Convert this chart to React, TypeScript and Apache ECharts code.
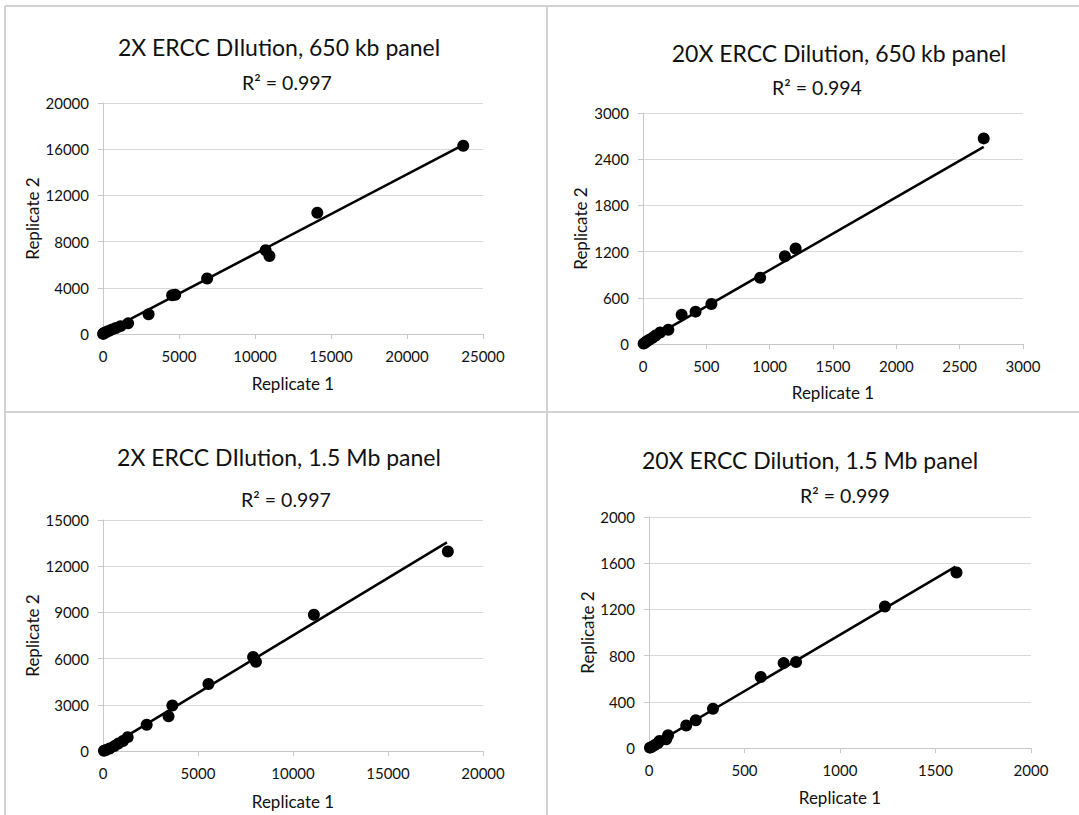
import React, { useEffect, useRef } from "react";
import * as echarts from "echarts";

// Panel titles and R² labels
const titles = [
  "2X ERCC DIlution, 650 kb panel",
  "20X ERCC Dilution, 650 kb panel",
  "2X ERCC DIlution, 1.5 Mb panel",
  "20X ERCC Dilution, 1.5 Mb panel",
];
const r2Labels = ["R² = 0.997", "R² = 0.994", "R² = 0.997", "R² = 0.999"];

// Axis ranges [min, max, interval]
const xRanges = [
  [0, 25000, 5000],
  [0, 3000, 500],
  [0, 20000, 5000],
  [0, 2000, 500],
];
const yRanges = [
  [0, 20000, 4000],
  [0, 3000, 600],
  [0, 15000, 3000],
  [0, 2000, 400],
];

// Panel 1: 2X, 650 kb
const p1Rep1 = [23700, 14100, 10700, 10950, 6850, 4550, 4750, 3000, 1650, 1150, 850, 600, 400, 220, 100, 30, 10];
const p1Rep2 = [16300, 10500, 7250, 6750, 4800, 3350, 3400, 1700, 920, 680, 520, 400, 280, 170, 100, 40, 10];
const p1Trend = [[0, 60], [23700, 16380]];

// Panel 2: 20X, 650 kb
const p2Rep1 = [2690, 1205, 1120, 925, 540, 415, 305, 200, 135, 100, 75, 50, 30, 15, 5];
const p2Rep2 = [2670, 1240, 1140, 860, 520, 420, 380, 185, 150, 110, 80, 55, 35, 15, 5];
const p2Trend = [[0, 15], [2690, 2560]];

// Panel 3: 2X, 1.5 Mb
const p3Rep1 = [18150, 11100, 7900, 8050, 5550, 3650, 3450, 2300, 1300, 1050, 800, 600, 350, 150, 50];
const p3Rep2 = [12950, 8850, 6100, 5800, 4350, 2950, 2250, 1700, 900, 650, 480, 320, 160, 60, 20];
const p3Trend = [[0, 40], [18100, 13550]];

// Panel 4: 20X, 1.5 Mb
const p4Rep1 = [1610, 1235, 770, 705, 585, 335, 245, 195, 100, 90, 55, 45, 30, 15, 5];
const p4Rep2 = [1520, 1225, 745, 735, 615, 340, 240, 195, 110, 75, 60, 40, 25, 10, 3];
const p4Trend = [[0, 5], [1605, 1570]];

const xName = "Replicate 1";
const yName = "Replicate 2";

const FONT = "Lato, 'Open Sans', sans-serif";

export default function App() {
  const ref = useRef<HTMLDivElement>(null);

  useEffect(() => {
    if (!ref.current) return;
    const chart = echarts.init(ref.current, null, { renderer: "svg" });

    const grids = [
      { left: 103, top: 103, width: 380, height: 231 },
      { left: 643, top: 113, width: 380, height: 231 },
      { left: 103, top: 520, width: 380, height: 231 },
      { left: 649, top: 517, width: 382, height: 231 },
    ];
    const yNameGaps = [62, 54, 62, 53];
    const xNameGaps = [41, 40, 42, 41];
    const titlePos = [
      [279, 47],
      [839, 53],
      [279, 457],
      [810, 460],
    ];
    const r2Pos = [
      [287, 82],
      [817, 87],
      [286, 499],
      [845, 495],
    ];

    const scatterSets = [
      [p1Rep1, p1Rep2],
      [p2Rep1, p2Rep2],
      [p3Rep1, p3Rep2],
      [p4Rep1, p4Rep2],
    ];
    const trends = [p1Trend, p2Trend, p3Trend, p4Trend];

    const axisCommon = {
      axisLine: { show: true, lineStyle: { color: "#c8c8c8", width: 1 } },
      axisTick: { show: true, length: 5, lineStyle: { color: "#c8c8c8" } },
      splitLine: { show: true, lineStyle: { color: "#d9d9d9", width: 1 } },
      nameLocation: "middle",
      nameTextStyle: { fontFamily: FONT, fontSize: 17, color: "#111" },
    };
    const labelStyle = {
      fontFamily: FONT,
      fontSize: 15,
      color: "#111",
      margin: 14,
      formatter: (v: number) => String(v),
    };

    const xAxis = xRanges.map((r, i) => ({
      ...axisCommon,
      type: "value",
      gridIndex: i,
      min: r[0],
      max: r[1],
      interval: r[2],
      name: xName,
      nameGap: xNameGaps[i],
      splitLine: { show: false },
      axisLabel: labelStyle,
    }));
    const yAxis = yRanges.map((r, i) => ({
      ...axisCommon,
      type: "value",
      gridIndex: i,
      min: r[0],
      max: r[1],
      interval: r[2],
      name: yName,
      nameGap: yNameGaps[i],
      axisLabel: labelStyle,
    }));

    const series: any[] = [];
    scatterSets.forEach(([xs, ys], i) => {
      series.push({
        type: "line",
        xAxisIndex: i,
        yAxisIndex: i,
        data: trends[i],
        symbol: "none",
        lineStyle: { color: "#000", width: 2.5 },
        z: 3,
      });
      series.push({
        type: "scatter",
        xAxisIndex: i,
        yAxisIndex: i,
        data: xs.map((x, k) => [x, ys[k]]),
        symbolSize: 12,
        itemStyle: { color: "#000", opacity: 1 },
        z: 4,
      });
    });

    const graphic: any[] = [];
    const border = "#d2d2d2";
    graphic.push(
      { type: "line", shape: { x1: 5, y1: 6, x2: 1079, y2: 6 }, style: { stroke: border, lineWidth: 2 } },
      { type: "line", shape: { x1: 5, y1: 6, x2: 5, y2: 815 }, style: { stroke: border, lineWidth: 2 } },
      { type: "line", shape: { x1: 547, y1: 6, x2: 547, y2: 815 }, style: { stroke: border, lineWidth: 2 } },
      { type: "line", shape: { x1: 5, y1: 412, x2: 1079, y2: 412 }, style: { stroke: border, lineWidth: 2 } }
    );
    titles.forEach((t, i) => {
      graphic.push({
        type: "text",
        x: titlePos[i][0],
        y: titlePos[i][1],
        style: {
          text: t,
          fill: "#111",
          font: `23px ${FONT}`,
          textAlign: "center",
          textVerticalAlign: "middle",
        },
      });
      graphic.push({
        type: "text",
        x: r2Pos[i][0],
        y: r2Pos[i][1],
        style: {
          text: r2Labels[i],
          fill: "#111",
          font: `19.5px ${FONT}`,
          textAlign: "center",
          textVerticalAlign: "middle",
        },
      });
    });

    chart.setOption({
      animation: false,
      backgroundColor: "#ffffff",
      grid: grids,
      xAxis,
      yAxis,
      series,
      graphic,
    });

    return () => chart.dispose();
  }, []);

  return (
    <div
      ref={ref}
      style={{ position: "fixed", left: 0, top: 0, width: 1079, height: 815 }}
    />
  );
}
